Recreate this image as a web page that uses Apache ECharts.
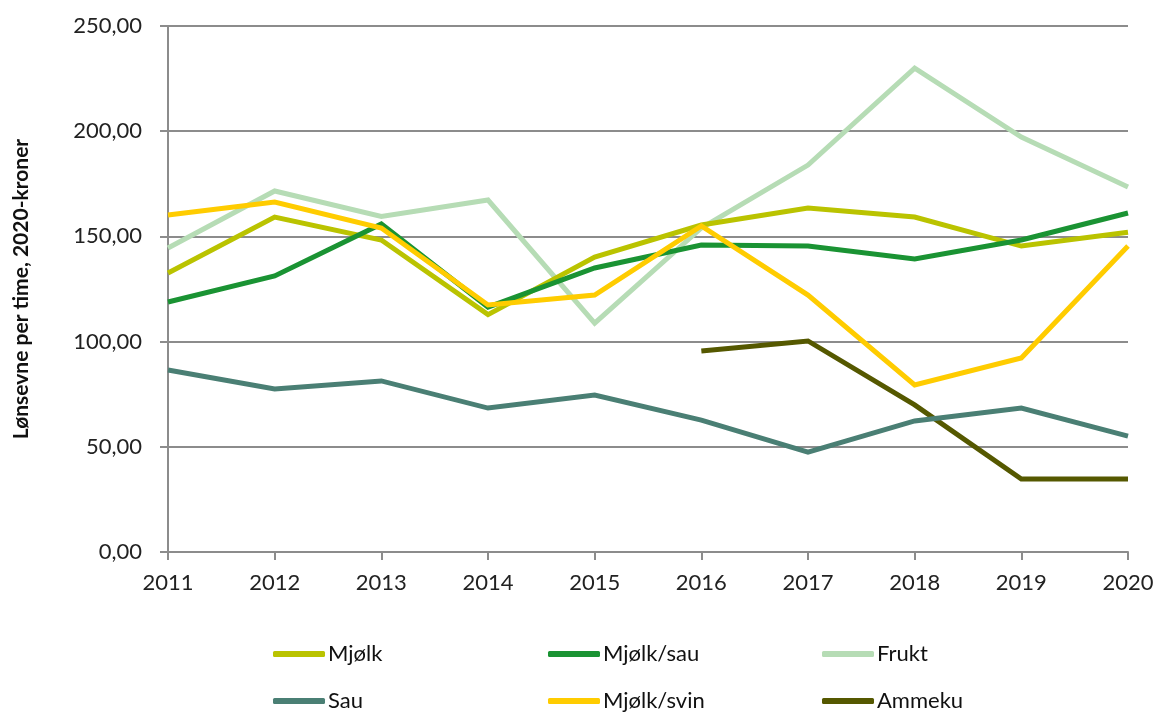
<!DOCTYPE html>
<html><head><meta charset="utf-8">
<script src="https://cdn.jsdelivr.net/npm/echarts@6/dist/echarts.min.js"></script>
<style>html,body{margin:0;padding:0;background:#fff}#c{width:1165px;height:718px}</style>
</head><body><div id="c"></div>
<script>
const years = ['2011','2012','2013','2014','2015','2016','2017','2018','2019','2020'];
const mjolk     = [132.6,159.2,148.3,112.8,140.2,155.4,163.5,159.2,145.4,152.0];
const mjolkSau  = [118.8,131.2,155.9,116.4,135.0,145.9,145.4,139.3,148.3,161.1];
const frukt     = [144.5,171.6,159.5,167.3,108.8,154.0,183.9,230.0,197.2,173.5];
const sau       = [86.5,77.5,81.3,68.4,74.6,62.7,47.5,62.3,68.4,55.1];
const mjolkSvin = [160.2,166.3,154.0,117.4,122.1,155.0,122.1,79.4,92.2,145.4];
const ammeku    = [null,null,null,null,null,95.5,100.3,69.9,34.7,34.7];
const yTicks = [0,50,100,150,200,250];

const font = 'Lato, "Open Sans", sans-serif';
const names = ['Mjølk','Mjølk/sau','Frukt','Sau','Mjølk/svin','Ammeku'];
const colors = ['#bac300','#1a9333','#b6dcb5','#4a7f74','#ffcc00','#555800'];
const datas = [mjolk,mjolkSau,frukt,sau,mjolkSvin,ammeku];
const order = [2,0,1,4,5,3];

const chart = echarts.init(document.getElementById('c'));
const legendPos = [[273,643],[548,643],[822,643],[273,690],[548,690],[822,690]];
chart.setOption({
  animation:false,
  grid:{left:168,right:37,top:26,bottom:166},
  xAxis:{type:'category',data:years,boundaryGap:false,
    axisLine:{lineStyle:{color:'#8c8c8c',width:2}},
    axisTick:{show:true,length:8,lineStyle:{color:'#8c8c8c',width:2},alignWithLabel:true},
    axisLabel:{color:'#222',fontSize:22,fontFamily:font,margin:20},
    splitLine:{show:false}},
  yAxis:{type:'value',min:0,max:250,interval:50,
    name:'Lønsevne per time, 2020-kroner',nameLocation:'middle',nameGap:136,nameRotate:90,
    nameTextStyle:{fontSize:21,fontWeight:'bold',color:'#111',fontFamily:font},
    axisLine:{show:true,lineStyle:{color:'#8c8c8c',width:2}},
    axisTick:{show:true,length:8,lineStyle:{color:'#8c8c8c',width:2}},
    axisLabel:{color:'#222',fontSize:22,fontFamily:font,margin:26,
      formatter:v=>yTicks.includes(v)?v.toFixed(2).replace('.',','):''},
    splitLine:{lineStyle:{color:'#8c8c8c',width:2}}},
  legend: names.map((n,i)=>({data:[n],left:legendPos[i][0],top:legendPos[i][1],padding:0,
    itemWidth:52,itemHeight:6,itemGap:5,icon:'roundRect',
    textStyle:{fontSize:22,lineHeight:22,color:'#111',fontFamily:font,padding:[0,0,0,-2]}})),
  series: order.map(i=>({name:names[i],type:'line',data:datas[i],symbol:'none',
    connectNulls:false,color:colors[i],lineStyle:{width:5,color:colors[i],join:'miter'}}))
});
</script></body></html>
